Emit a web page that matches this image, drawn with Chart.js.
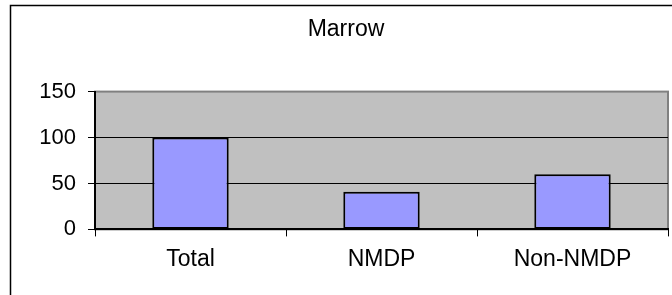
<!DOCTYPE html>
<html>
<head>
<meta charset="utf-8">
<script src="https://cdn.jsdelivr.net/npm/chart.js@4/dist/chart.umd.min.js"></script>
<style>
  html, body { margin: 0; padding: 0; background: #fff; }
  #wrap { width: 672px; height: 295px; }
</style>
</head>
<body>
<div id="wrap"><canvas id="bar-chart" width="672" height="295"></canvas></div>
<script>
// chart data
const chartTitle = 'Marrow';
const categories = ['Total', 'NMDP', 'Non-NMDP'];
const values = [100, 41, 60];
const yMin = 0, yMax = 150, yStep = 50;

// gray plot area + frame around the chart
const plotBackground = {
    id: 'plotBackground',
    beforeDraw(chart) {
        const { ctx, chartArea: a } = chart;
        ctx.save();
        // outer frame (only top and left are visible in the original)
        ctx.strokeStyle = '#000';
        ctx.lineWidth = 1.5;
        ctx.beginPath();
        ctx.moveTo(10.5, chart.height);
        ctx.lineTo(10.5, 5.5);
        ctx.lineTo(chart.width, 5.5);
        ctx.stroke();
        // plot area
        ctx.fillStyle = '#C0C0C0';
        ctx.fillRect(a.left, a.top, a.right - a.left, a.bottom - a.top);
        ctx.strokeStyle = '#808080';
        ctx.lineWidth = 2;
        ctx.strokeRect(a.left, a.top, a.right - a.left, a.bottom - a.top);
        ctx.restore();
    }
};

const font = "'Liberation Sans', Arial, sans-serif";

new Chart(document.getElementById('bar-chart'), {
    type: 'bar',
    data: {
        labels: categories,
        datasets: [{
            label: chartTitle,
            data: values,
            backgroundColor: '#9999FF',
            borderColor: '#000',
            borderWidth: 2,
            borderSkipped: false,
            categoryPercentage: 1,
            barPercentage: 0.4
        }]
    },
    options: {
        responsive: false,
        animation: false,
        layout: { padding: { left: 24, right: 4, top: 0, bottom: 13 } },
        plugins: {
            legend: { display: false },
            tooltip: { enabled: false },
            title: {
                display: true,
                text: chartTitle,
                color: '#000',
                font: { family: font, size: 23, weight: 'normal' },
                padding: { top: 16, bottom: 48 }
            }
        },
        scales: {
            x: {
                grid: {
                    drawOnChartArea: false,
                    tickLength: 7,
                    tickColor: '#000',
                    tickWidth: 1
                },
                border: { color: '#000', width: 2 },
                ticks: {
                    color: '#000',
                    padding: 9,
                    font: { family: font, size: 23 }
                }
            },
            y: {
                min: yMin,
                max: yMax,
                afterFit(scale) { scale.width = 71; },
                grid: {
                    color: (c) => c.tick && c.tick.value === yMax ? '#808080' : '#000',
                    lineWidth: 1,
                    tickLength: 7,
                    tickColor: '#000'
                },
                border: { color: '#000', width: 2 },
                ticks: {
                    stepSize: yStep,
                    color: '#000',
                    padding: 12,
                    font: { family: font, size: 22 }
                }
            }
        }
    },
    plugins: [plotBackground]
});
</script>
</body>
</html>
